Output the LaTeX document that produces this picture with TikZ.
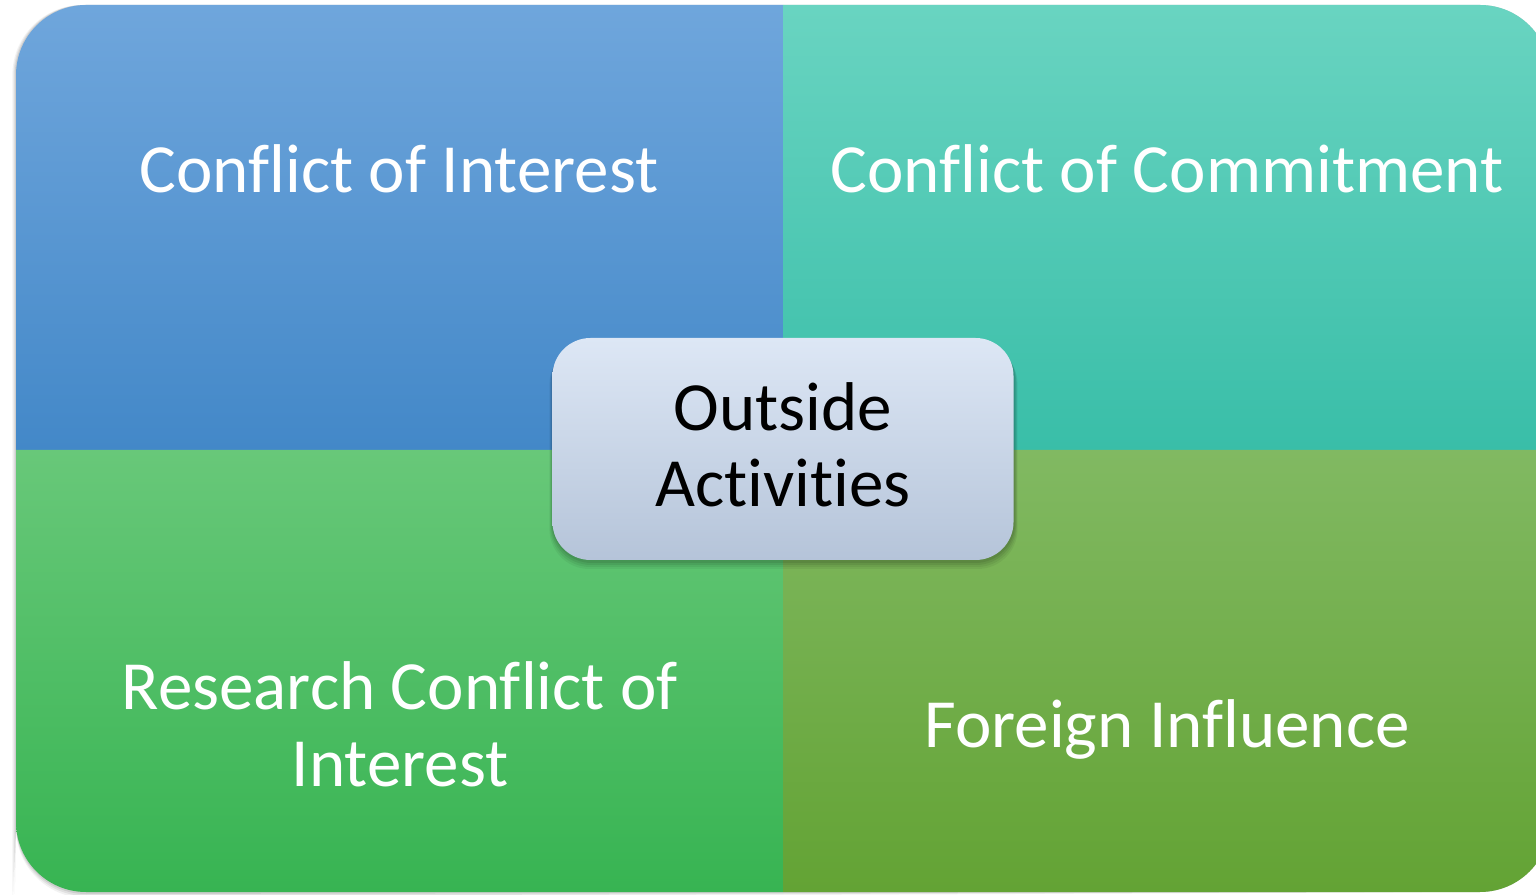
\documentclass[tikz,border=0pt]{standalone}
\usepackage{fontspec}
\setmainfont{Carlito}[Ligatures=NoCommon]
\definecolor{tlT}{HTML}{6FA6DC}
\definecolor{tlB}{HTML}{4388C8}
\definecolor{trT}{HTML}{69D4C1}
\definecolor{trB}{HTML}{39BEA8}
\definecolor{blT}{HTML}{68C879}
\definecolor{blB}{HTML}{37B452}
\definecolor{brT}{HTML}{81B962}
\definecolor{brB}{HTML}{63A334}
\definecolor{cbT}{HTML}{DDE7F5}
\definecolor{cbB}{HTML}{B5C4D9}
\tikzset{
  qtext/.style={text=white, align=center, font=\fontsize{69}{77}\selectfont, inner sep=0pt},
  centerbox/.style={rounded corners=38pt, minimum width=461pt, minimum height=222pt,
    top color=cbT, bottom color=cbB, draw=none},
  centertext/.style={align=center, text=black, inner sep=0pt, font=\fontsize{69}{76}\selectfont},
  boxshadow/.style={fill=black, rounded corners=40pt},
}
\begin{document}
\begin{tikzpicture}[x=1pt,y=1pt]
\useasboundingbox (0,0) rectangle (1536,894);
% outer shadow
\foreach \o/\a in {6/0.05,4/0.07,2/0.09}{
  \fill[black,opacity=\a] (16-\o*0.6,2-\o) -- (16-\o*0.6,819) arc[start angle=180,end angle=90,radius=70] -- (1480,889) arc[start angle=90,end angle=0,radius=70] -- (1550,72) arc[start angle=0,end angle=-90,radius=70] -- (86,2-\o) arc[start angle=270,end angle=180,radius=70] -- cycle;
}
% quadrants
\shade[top color=tlT, bottom color=tlB] (783,444) -- (16,444) -- (16,819) arc[start angle=180,end angle=90,radius=70] -- (783,889) -- cycle;
\shade[top color=trT, bottom color=trB] (783,444) -- (783,889) -- (1480,889) arc[start angle=90,end angle=0,radius=70] -- (1550,444) -- cycle;
\shade[top color=blT, bottom color=blB] (783,444) -- (16,444) -- (16,72) arc[start angle=180,end angle=270,radius=70] -- (783,2) -- cycle;
\shade[top color=brT, bottom color=brB] (783,444) -- (1550,444) -- (1550,72) arc[start angle=0,end angle=-90,radius=70] -- (783,2) -- cycle;
% quadrant labels
\node[qtext, anchor=base] (coi) at (399,701) {Conflict of Interest};
\node[qtext, anchor=base] (coc) at (1167,701) {Conflict of Commitment};
\node[qtext] (rcoi) at (400,170) {Research Conflict of\\Interest};
\node[qtext, anchor=base] (fi) at (1167,146) {Foreign Influence};
% center shadow
\foreach \o/\a in {9/0.05,7/0.06,5/0.07,3/0.08}{
  \fill[boxshadow, opacity=\a] (553-\o*0.4,334-\o) rectangle (1014+\o*0.4,556-\o*0.7);
}
% center
\node[centerbox] (oabox) at (783,445) {};
\node[centertext] (oa) at (783,449) {Outside\\Activities};
\end{tikzpicture}
\end{document}
